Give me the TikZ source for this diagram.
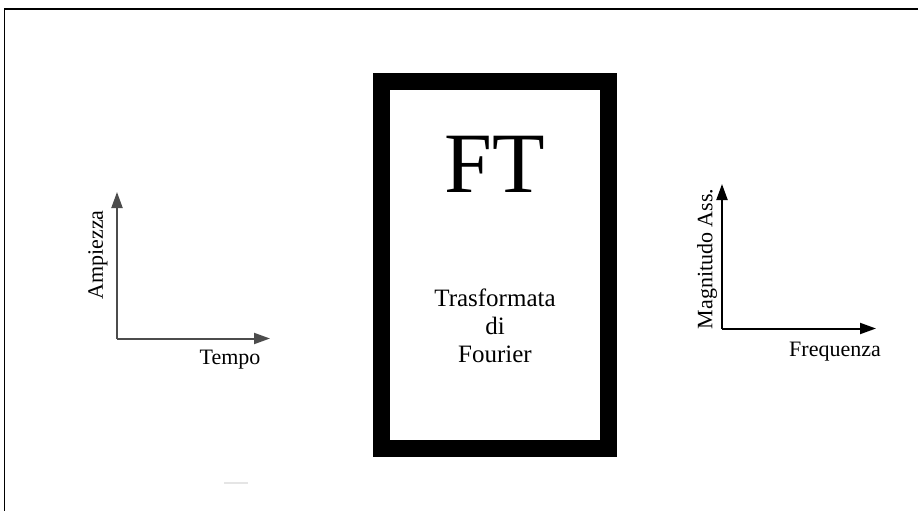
\documentclass[tikz,border=0pt]{standalone}
\usepackage{fontspec}
\setmainfont{Liberation Serif}
\usetikzlibrary{arrows.meta}
\tikzset{
  axisline/.style={line width=2pt,-{Triangle[length=16pt,width=11pt]}},
  axlabel/.style={inner sep=0pt,font=\fontsize{22}{24}\selectfont},
  boxtext/.style={inner sep=0pt,align=center,font=\fontsize{25}{28}\selectfont},
}
\begin{document}
\begin{tikzpicture}[x=1pt,y=-1pt]
\useasboundingbox (0,0) rectangle (918,511);
\fill[white] (0,0) rectangle (918,511);
% outer frame (partly visible)
\draw[line width=1.6pt] (4.5,511) -- (4.5,9) -- (918,9);
% faint dash
\draw[gray!20,line width=2pt] (224,483) -- (248,483);
% central box
\node[draw,line width=17pt,minimum width=227.5pt,minimum height=367pt,inner sep=0pt] (ftbox) at (495,265) {};
\node[inner sep=0pt,font=\fontsize{86}{86}\selectfont,anchor=base] (ft) at (495,192) {FT};
\node[boxtext] (tdf) at (495,326) {Trasformata\\di\\Fourier};
% left axes
\coordinate (lo) at (117,338.5);
\coordinate (ly) at (117,192);
\coordinate (lx) at (270,338.5);
\draw[axisline,draw=black!70,fill=black!70] (lo) -- (ly);
\draw[axisline,draw=black!70,fill=black!70] (lo) -- (lx);
\node[axlabel,rotate=90] (amp) at (98,255) {Ampiezza};
\node[axlabel] (tempo) at (230,360) {Tempo};
% right axes
\coordinate (ro) at (722,328.5);
\coordinate (ry) at (722,184);
\coordinate (rx) at (876,328.5);
\draw[axisline] (ro) -- (ry);
\draw[axisline] (ro) -- (rx);
\node[axlabel,rotate=90] (mag) at (707,259) {Magnitudo Ass.};
\node[axlabel] (freq) at (835,352) {Frequenza};
\end{tikzpicture}
\end{document}
